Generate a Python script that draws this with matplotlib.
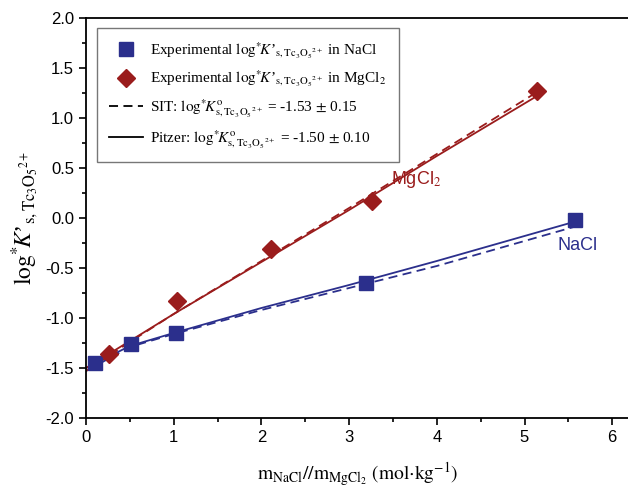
import matplotlib
matplotlib.use("Agg")
import matplotlib.pyplot as plt
from matplotlib.ticker import MultipleLocator
from matplotlib.lines import Line2D

plt.rcParams['mathtext.fontset'] = 'stix'
plt.rcParams['font.family'] = ['Liberation Sans', 'DejaVu Sans']

# Experimental data
nacl_m = [0.10, 0.51, 1.03, 3.19, 5.58]
nacl_logk = [-1.45, -1.26, -1.15, -0.65, -0.02]
mgcl2_m = [0.26, 1.04, 2.11, 3.26, 5.14]
mgcl2_logk = [-1.36, -0.83, -0.31, 0.17, 1.27]

# Model curves
pitzer_nacl_m = [0.0, 0.5, 1.0, 2.0, 3.0, 4.0, 5.6]
pitzer_nacl = [-1.50, -1.28, -1.15, -0.90, -0.67, -0.43, -0.03]
sit_nacl_m = [0.0, 0.5, 1.0, 2.0, 3.0, 4.0, 5.6]
sit_nacl = [-1.53, -1.29, -1.16, -0.92, -0.70, -0.48, -0.08]
pitzer_mg_m = [0.0, 0.5, 1.0, 2.0, 3.0, 4.0, 5.2]
pitzer_mg = [-1.50, -1.23, -0.96, -0.44, 0.08, 0.62, 1.25]
sit_mg_m = [0.0, 0.5, 1.0, 2.0, 3.0, 4.0, 5.2]
sit_mg = [-1.53, -1.24, -0.96, -0.43, 0.10, 0.64, 1.29]

blue = '#2b2f8c'
red = '#9a1c1c'
serif = ['Liberation Serif', 'DejaVu Serif']

fig = plt.figure(figsize=(6.28, 4.9), dpi=100)
ax = fig.add_axes([86/628, 72/490, 6.2*87.7/628, 400/490])

ax.plot(sit_nacl_m, sit_nacl, '--', color=blue, lw=1.3, dashes=(5, 3))
ax.plot(pitzer_nacl_m, pitzer_nacl, '-', color=blue, lw=1.3)
ax.plot(sit_mg_m, sit_mg, '--', color=red, lw=1.3, dashes=(5, 3))
ax.plot(pitzer_mg_m, pitzer_mg, '-', color=red, lw=1.3)
ax.plot(nacl_m, nacl_logk, 's', color=blue, ms=9.5, zorder=5)
ax.plot(mgcl2_m, mgcl2_logk, 'D', color=red, ms=9.5, zorder=5)

ax.set_xlim(0, 6.2)
ax.set_ylim(-2.0, 2.0)
ax.xaxis.set_major_locator(MultipleLocator(1))
ax.xaxis.set_minor_locator(MultipleLocator(0.5))
ax.yaxis.set_major_locator(MultipleLocator(0.5))
ax.yaxis.set_minor_locator(MultipleLocator(0.25))
ax.tick_params(which='major', direction='out', length=5, width=1.2, labelsize=12)
ax.tick_params(which='minor', direction='out', length=3, width=1.2)
ax.xaxis.set_major_formatter(plt.FuncFormatter(lambda v, p: f'{v:.0f}'))
ax.yaxis.set_major_formatter(plt.FuncFormatter(lambda v, p: f'{v:.1f}'))
for s in ax.spines.values():
    s.set_linewidth(1.3)

ax.set_xlabel(r'$\mathrm{m_{NaCl}//m_{MgCl_2}\ (mol{\cdot}kg^{-1})}$', fontsize=14, labelpad=11)
ax.set_ylabel(r"$\mathrm{log}^{*}\!K$’$_{\mathrm{s,Tc_3O_5{}^{2+}}}$", fontsize=17, labelpad=4,
              family=serif)

ax.text(3.76, 0.38, r'MgCl$_2$', color=red, fontsize=13, ha='center', va='center')
ax.text(5.6, -0.27, 'NaCl', color=blue, fontsize=13, ha='center', va='center')

handles = [
    Line2D([], [], marker='s', color=blue, ls='none', ms=9.5),
    Line2D([], [], marker='D', color=red, ls='none', ms=9.5),
    Line2D([], [], color='black', ls='--', lw=1.3, dashes=(5, 3)),
    Line2D([], [], color='black', ls='-', lw=1.3),
]
labels = [
    r"Experimental $\mathrm{log}^{*}\!K$’$_{\mathrm{s,Tc_3O_5{}^{2+}}}$ in NaCl",
    r"Experimental $\mathrm{log}^{*}\!K$’$_{\mathrm{s,Tc_3O_5{}^{2+}}}$ in MgCl$_2$",
    r"SIT: $\mathrm{log}^{*}\!K^{\mathrm{o}}_{\mathrm{s,Tc_3O_5{}^{2+}}}$ = -1.53 $\pm$ 0.15",
    r"Pitzer: $\mathrm{log}^{*}\!K^{\mathrm{o}}_{\mathrm{s,Tc_3O_5{}^{2+}}}$ = -1.50 $\pm$ 0.10",
]
leg = ax.legend(handles, labels, loc='upper left', bbox_to_anchor=(0.02, 0.975),
                borderaxespad=0,
                prop={'family': serif, 'size': 11}, fancybox=False,
                edgecolor='#777777', framealpha=1, handlelength=2.2, handletextpad=0.5,
                borderpad=0.8, labelspacing=0.6)
leg.get_frame().set_linewidth(1.0)

fig.savefig('out.png', dpi=100)
